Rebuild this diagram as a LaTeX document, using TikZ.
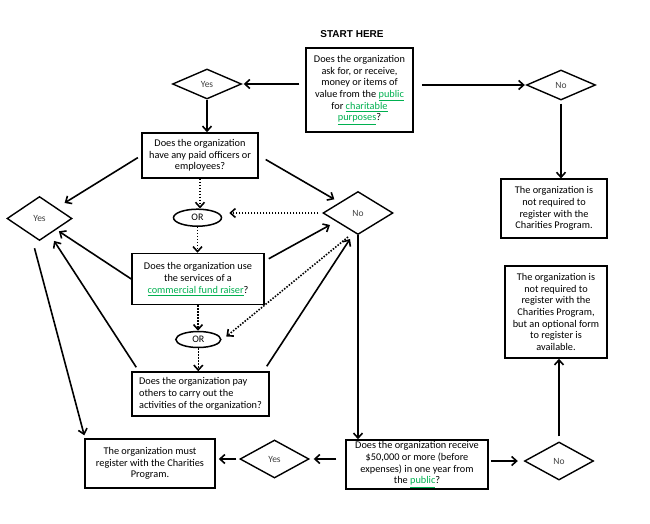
\documentclass[tikz,border=0pt]{standalone}
\usepackage{fontspec}
\setmainfont{Carlito}
\newfontfamily\titlefont{Liberation Sans}
\usetikzlibrary{shapes.geometric,arrows.meta,calc}
\definecolor{linkgreen}{RGB}{0,176,80}
\newcommand{\lnk}[1]{\textcolor{linkgreen}{\underline{#1}}}
\begin{document}
\begin{tikzpicture}[x=1pt,y=-1pt,
  box/.style={draw, line width=1.5pt, align=center, inner sep=2pt, font=\fontsize{10.3}{11.7}\selectfont},
  dia/.style={diamond, draw, line width=1.4pt, inner sep=0pt, font=\fontsize{9.5}{10}\selectfont, text=black!75},
  orn/.style={ellipse, draw, line width=1.5pt, inner sep=0pt, font=\fontsize{10}{10}\selectfont},
  arr/.style={line width=1.6pt, -{Straight Barb[length=5pt,width=9pt]}},
  dotarr/.style={arr, dash pattern=on 1.5pt off 1.5pt}]
\useasboundingbox (0,0) rectangle (650,524);

\node[font=\titlefont\bfseries\fontsize{10}{12}\selectfont] (title) at (352,34) {START HERE};

\node[box, minimum width=107pt, minimum height=84pt] (q1) at (359.5,90)
  {Does the organization\\ ask for, or receive,\\ money or items of\\ value from the \lnk{public}\\ for \lnk{charitable}\\ \lnk{purposes}?};
\node[dia, minimum width=69pt, minimum height=30pt] (yes1) at (207,84) {Yes};
\node[dia, minimum width=69pt, minimum height=30pt] (no1) at (561,85) {No};

\node[box, minimum width=116pt, minimum height=45pt] (q2) at (200,155.5)
  {Does the organization\\ have any paid officers or\\ employees?};
\node[dia, minimum width=65pt, minimum height=44pt] (yes2) at (39.5,218.5) {Yes};
\node[dia, minimum width=70pt, minimum height=43pt] (no2) at (358,213) {No};
\node[orn, minimum width=48pt, minimum height=17pt] (or1) at (197.5,217.7) {OR};

\node[box, minimum width=132pt, minimum height=51pt] (q3) at (198,279)
  {Does the organization use\\ the services of a\\ \lnk{commercial fund raiser}?};
\node[orn, minimum width=45pt, minimum height=16pt] (or2) at (198.3,339.5) {OR};
\node[box, align=left, minimum width=137pt, minimum height=44pt] (q4) at (200.5,394)
  {Does the organization pay\\ others to carry out the\\ activities of the organization?};

\node[box, minimum width=130pt, minimum height=49pt] (must) at (150,463.5)
  {The organization must\\ register with the Charities\\ Program.};
\node[dia, minimum width=69pt, minimum height=38pt] (yes3) at (274.5,459) {Yes};
\node[box, minimum width=142pt, minimum height=49pt, inner sep=1pt] (q5) at (417,464.5)
  {Does the organization receive\\ \$50,000 or more (before\\ expenses) in one year from\\ the \lnk{public}?};
\node[dia, minimum width=69pt, minimum height=38pt] (no3) at (559,461) {No};

\node[box, minimum width=106pt, minimum height=59pt] (r1) at (554,208.7)
  {The organization is\\ not required to\\ register with the\\ Charities Program.};
\node[box, minimum width=102pt, minimum height=92pt] (r2) at (556,312)
  {The organization is\\ not required to\\ register with the\\ Charities Program,\\ but an optional form\\ to register is\\ available.};

% connectors
\draw[arr, shorten <=6pt, shorten >=1.5pt] (q1.west |- yes1) -- (yes1.east);
\draw[arr, shorten <=8pt, shorten >=1pt] (q1.east |- no1) -- (no1.west);
\draw[arr] (yes1.south) -- (yes1.south |- q2.north);
\draw[arr, shorten <=3pt] (no1.south) -- (no1.south |- r1.north);

\draw[arr, shorten <=4pt, shorten >=9pt] (q2.west) -- (yes2);
\draw[arr, shorten >=3pt] (q3.west) -- (yes2);
\draw[arr, shorten >=8pt] ($(q4.north west)+(5,-4)$) -- (yes2);
\draw[arr] ($(yes2.south)+(-5,7)$) -- ($(must.north west)+(0,-3)$);

\draw[arr, shorten <=8pt, shorten >=6pt] (q2.east) -- (no2);
\draw[dotarr, shorten <=4pt, shorten >=7pt] (no2.west) -- (no2.west -| or1.east);
\draw[arr] ($(q3.north east)+(4,6)$) -- ($(no2)+(-28,12)$);
\draw[dotarr] ($(no2)+(-10,24)$) -- ($(or2)+(28,-3)$);
\draw[arr] ($(q4.north east)+(-3,-5)$) -- ($(no2)+(-8,26)$);
\draw[arr] (no2.south) -- (no2.south |- q5.north);

\draw[dotarr] (q2.south) -- (q2.south |- or1.north);
\draw[dotarr] (or1.south) -- (or1.south |- q3.north);
\draw[dotarr] (q3.south) -- (q3.south |- or2.north);
\draw[dotarr] (or2.south) -- (or2.south |- q4.north);

\draw[arr, shorten <=9pt, shorten >=4pt] (q5.west |- yes3) -- (yes3.east);
\draw[arr, shorten <=3pt, shorten >=3pt] (yes3.west) -- (yes3.west -| must.east);
\draw[arr, shorten <=2pt, shorten >=6pt] (q5.east |- no3) -- (no3.west);
\draw[arr, shorten <=5pt] (no3.north) -- (no3.north |- r2.south);
\end{tikzpicture}
\end{document}
